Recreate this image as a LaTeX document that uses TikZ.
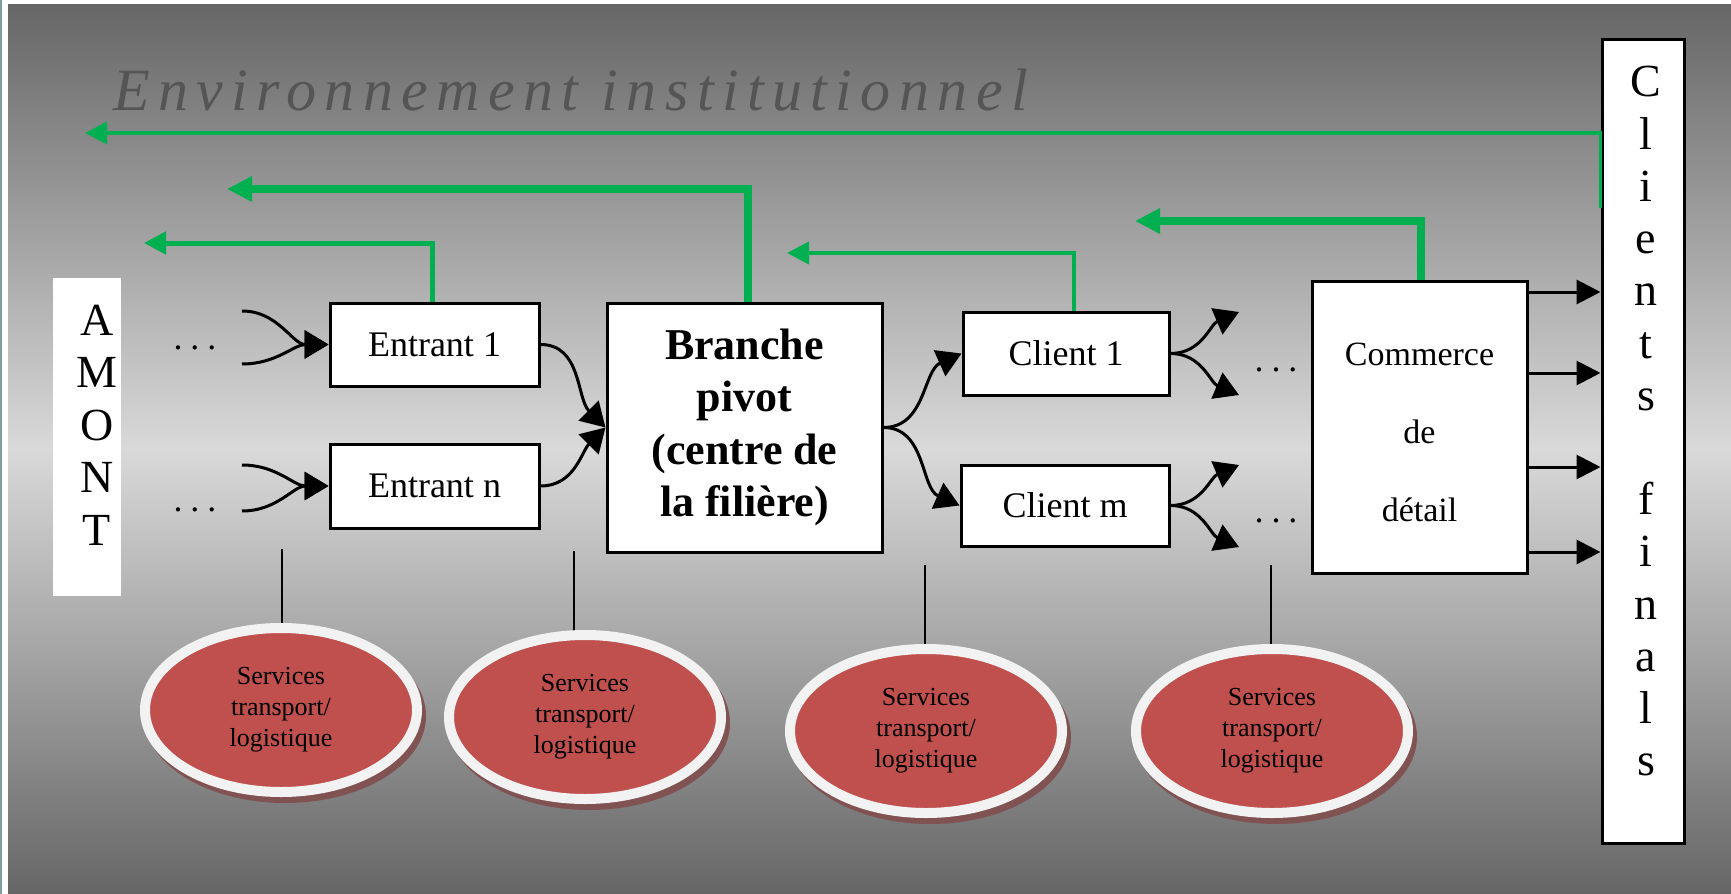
\documentclass[tikz,border=0pt]{standalone}
\usepackage{fontspec}
\setmainfont{Liberation Serif}
\newfontfamily\titlefont[LetterSpace=14]{Liberation Serif}
\usetikzlibrary{arrows.meta,shapes.geometric,calc}

\definecolor{bgdark}{RGB}{102,102,102}
\definecolor{bglight}{RGB}{217,217,217}
\definecolor{edgeslate}{RGB}{130,155,160}
\definecolor{titlegray}{RGB}{85,85,85}
\definecolor{flowgreen}{RGB}{0,176,80}
\definecolor{svcred}{RGB}{192,80,77}
\definecolor{svcrim}{RGB}{242,242,242}
\definecolor{svcshadow}{RGB}{128,82,82}

\tikzset{
  box/.style={draw=black, fill=white, line width=1.5pt, inner sep=0pt, align=center},
  stackletter/.style={font=\fontsize{23}{23}\selectfont, anchor=base, inner sep=0pt},
  svc/.style={ellipse, draw=svcrim, fill=svcred, line width=5pt,
    minimum width=136pt, minimum height=82pt, inner sep=0pt, align=center,
    font=\fontsize{13}{15.5}\selectfont},
  link/.style={line width=1pt},
  flow/.style={line width=1.5pt, -{Triangle[length=12pt,width=14pt]}},
  flowr/.style={line width=1.5pt, -{Triangle[length=12pt,width=12pt]}},
  feed/.style={draw=flowgreen, -{Triangle[length=11pt,width=11pt]}},
  feedthick/.style={draw=flowgreen, line width=4.3pt, -{Triangle[length=12.5pt,width=12pt]}},
  dotrow/.style={font=\fontsize{18}{18}\selectfont, anchor=base, inner sep=0pt},
}
\newcommand{\dotsrow}{.\hspace{4pt}.\hspace{4pt}.}

\begin{document}
\begin{tikzpicture}[x=0.5pt,y=-0.5pt]
\useasboundingbox (0,0) rectangle (1731,894);

% background: frame edge and vertical grey gradient
\fill[white] (0,0) rectangle (1731,894);
\fill[edgeslate] (0,0) rectangle (2,894);
\shade[top color=bgdark, bottom color=bgdark, middle color=bglight] (8,4) rectangle (1731,894);

% title
\node[anchor=base west, inner sep=0pt, text=titlegray,
      font=\titlefont\itshape\fontsize{30}{30}\selectfont] (title) at (113,110)
      {Environnement institutionnel};

% upstream column
\node[fill=white, minimum width=34pt, minimum height=159pt, inner sep=0pt] (amont) at (87,437) {};
\foreach \letr [count=\k] in {A,M,O,N,T}
  \node[stackletter] (am\k) at (97,{335+52.5*(\k-1)}) {\letr};

% final clients column
\node[box, minimum width=41pt, minimum height=402pt] (cf) at (1643,441) {};
\foreach \letr [count=\k] in {C,l,i,e,n,t,s}
  \node[stackletter] (cfa\k) at (1646,{97+52.2*(\k-1)}) {\letr};
\foreach \letr [count=\k] in {f,i,n,a,l,s}
  \node[stackletter] (cfb\k) at (1646,{514.6+52.2*(\k-1)}) {\letr};

% chain boxes
\node[box, minimum width=104.5pt, minimum height=41.5pt, font=\fontsize{18}{20}\selectfont] (e1) at (434.5,344.5) {Entrant 1};
\node[box, minimum width=104.5pt, minimum height=42pt, font=\fontsize{18}{20}\selectfont] (en) at (434.5,486) {Entrant n};
\node[box, minimum width=137.5pt, minimum height=124.5pt, font=\fontsize{22}{26.2}\selectfont\bfseries] (br) at (744.5,427.5)
  {Branche\\pivot\\(centre de\\la filière)};
\node[box, minimum width=103pt, minimum height=41.5pt, font=\fontsize{18}{20}\selectfont] (c1) at (1066,353.5) {Client 1};
\node[box, minimum width=104pt, minimum height=40.5pt, font=\fontsize{18}{20}\selectfont] (cm) at (1065,505.5) {Client m};
\node[box, minimum width=107.5pt, minimum height=146pt] (com) at (1419.5,427) {};
\node[inner sep=0pt, align=center, font=\fontsize{17}{39.2}\selectfont] (comtxt) at (1419.5,432.5) {Commerce\\de\\détail};

% ellipsis marks
\node[dotrow] (d1) at (195,349) {\dotsrow};
\node[dotrow] (d2) at (195,511) {\dotsrow};
\node[dotrow] (d3) at (1276,371) {\dotsrow};
\node[dotrow] (d4) at (1276,522) {\dotsrow};

% free ends of the branching arrows
\coordinate (in1a) at (242,311);
\coordinate (in1b) at (242,364);
\coordinate (in2a) at (242,465);
\coordinate (in2b) at (242,511);
\coordinate (o1a) at (1239,312);
\coordinate (o1b) at (1239,395);
\coordinate (oma) at (1239,465);
\coordinate (omb) at (1239,547);

\draw[flow] (in1a) to[out=0,in=180] (e1.west);
\draw[flow] (in1b) to[out=0,in=180] (e1.west);
\draw[flow] (in2a) to[out=0,in=180] (en.west);
\draw[flow] (in2b) to[out=0,in=180] (en.west);
\draw[flow] (e1.east) to[out=0,in=135] (br.west);
\draw[flow] (en.east) to[out=0,in=225] (br.west);
\draw[flow] (br.east) to[out=0,in=204] (c1.west);
\draw[flow] (br.east) to[out=0,in=156] (cm.west);
\draw[flow] (c1.east) to[out=0,in=203] (o1a);
\draw[flow] (c1.east) to[out=0,in=157] (o1b);
\draw[flow] (cm.east) to[out=0,in=203] (oma);
\draw[flow] (cm.east) to[out=0,in=157] (omb);

% retail to final clients
\foreach \yy in {292,373,467,552}
  \draw[flowr] (com.east |- 0,\yy) -- (cf.west |- 0,\yy);

% transport / logistics services
\coordinate (p1) at (281,710);
\coordinate (p2) at (585,717);
\coordinate (p3) at (926,731);
\coordinate (p4) at (1272,731);
\coordinate (t1) at (282,549);
\coordinate (t2) at (574,551);
\coordinate (t3) at (925,565);
\coordinate (t4) at (1271,565);
\foreach \i in {1,...,4}{
  \fill[svcshadow] ($(p\i)+(4,6)$) ellipse [x radius=70.5pt, y radius=43.5pt];
  \draw[link] (t\i) -- ($(t\i |- p\i)+(0,-80)$);
}
\foreach \i in {1,...,4}
  \node[svc] (s\i) at (p\i) {Services\\transport/\\logistique};

% feedback arrows towards the institutional environment
\coordinate (g1) at (85,133);
\coordinate (g2) at (144,243);
\coordinate (g3) at (227,189);
\coordinate (g4) at (787,253);
\coordinate (g5) at (1135,221);
\draw[feed, line width=1.8pt] ($(cf.north west)+(0,170)$) |- (g1);
\draw[feed, line width=2.5pt] ([xshift=-1pt]e1.north) |- (g2);
\draw[feedthick] ([xshift=1.75pt]br.north) |- (g3);
\draw[feed, line width=2pt] ([xshift=4pt]c1.north) |- (g4);
\draw[feedthick] ([xshift=0.75pt]com.north) |- (g5);
\end{tikzpicture}
\end{document}
